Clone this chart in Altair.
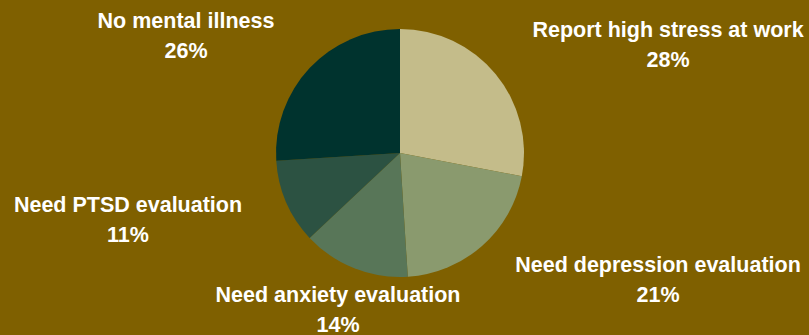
import altair as alt
import pandas as pd

# Survey breakdown, clockwise from 12 o'clock
categories = [
    "Report high stress at work",
    "Need depression evaluation",
    "Need anxiety evaluation",
    "Need PTSD evaluation",
    "No mental illness",
]
shares = [28, 21, 14, 11, 26]
slice_colors = ["#c4bc8a", "#8a9a6e", "#587658", "#2c5242", "#00332e"]

# Label anchor points (pixels) for each category's two-line caption
label_x = [668, 658, 338, 128, 186]
label_y = [31, 266, 296, 206, 22]

BG = "#7f6000"
CX, CY, R = 400, 153, 124

pie_df = pd.DataFrame({"category": categories, "share": shares, "order": range(len(categories))})

pie = alt.Chart(pie_df).mark_arc(outerRadius=R).encode(
    theta=alt.Theta("share:Q", stack=True),
    order=alt.Order("order:Q"),
    color=alt.Color("category:N", scale=alt.Scale(domain=categories, range=slice_colors), legend=None),
    x=alt.value(CX),
    y=alt.value(CY),
)

label_df = pd.DataFrame({
    "name": categories,
    "pct": [f"{s}%" for s in shares],
    "lx": label_x,
    "ly": label_y,
})
label_df["ly2"] = label_df["ly"] + 30

text_style = dict(font="Liberation Sans", fontSize=21.5, fontWeight="bold", color="#ffffff",
                  align="center", baseline="middle")

names = alt.Chart(label_df).mark_text(**text_style).encode(
    x=alt.X("lx:Q", scale=None),
    y=alt.Y("ly:Q", scale=None),
    text="name:N",
)
pcts = alt.Chart(label_df).mark_text(**text_style).encode(
    x=alt.X("lx:Q", scale=None),
    y=alt.Y("ly2:Q", scale=None),
    text="pct:N",
)

chart = (
    alt.layer(pie, names, pcts)
    .properties(width=809, height=335, background=BG, padding=0, autosize=alt.AutoSizeParams(type="none"))
    .configure_view(stroke=None)
)

chart.save("out.html", embed_options={"renderer": "svg", "actions": False})
